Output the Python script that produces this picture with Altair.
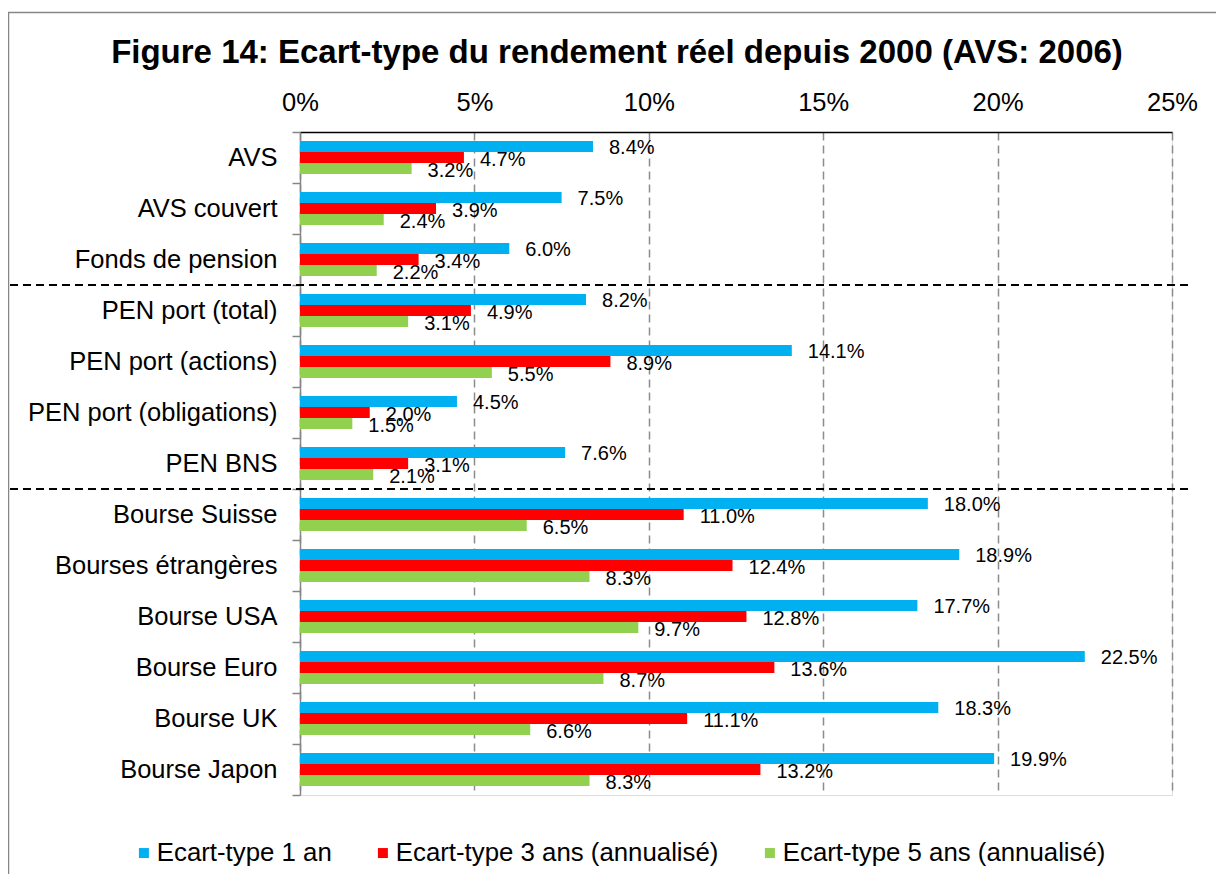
import altair as alt
import pandas as pd

categories = ["AVS", "AVS couvert", "Fonds de pension", "PEN port (total)",
              "PEN port (actions)", "PEN port (obligations)", "PEN BNS",
              "Bourse Suisse", "Bourses étrangères", "Bourse USA",
              "Bourse Euro", "Bourse UK", "Bourse Japon"]
series_names = ["Ecart-type 1 an", "Ecart-type 3 ans (annualisé)",
                "Ecart-type 5 ans (annualisé)"]
ecart_1an = [8.4, 7.5, 6.0, 8.2, 14.1, 4.5, 7.6, 18.0, 18.9, 17.7, 22.5, 18.3, 19.9]
ecart_3ans = [4.7, 3.9, 3.4, 4.9, 8.9, 2.0, 3.1, 11.0, 12.4, 12.8, 13.6, 11.1, 13.2]
ecart_5ans = [3.2, 2.4, 2.2, 3.1, 5.5, 1.5, 2.1, 6.5, 8.3, 9.7, 8.7, 6.6, 8.3]
colors = ["#00B0F0", "#FF0000", "#92D050"]
separators = ["PEN port (total)", "Bourse Suisse"]
x_ticks = [0, 5, 10, 15, 20, 25]
title_text = "Figure 14: Ecart-type du rendement réel depuis 2000 (AVS: 2006)"

rows = []
for name, vals in zip(series_names, [ecart_1an, ecart_3ans, ecart_5ans]):
    for c, v in zip(categories, vals):
        rows.append({"cat": c, "series": name, "value": v})
df = pd.DataFrame(rows)

FONT = "Liberation Sans"
W, H = 872, 663

yscale = alt.Scale(domain=categories, paddingInner=0, paddingOuter=0)
yoff = alt.YOffset("series:N", scale=alt.Scale(domain=series_names, paddingInner=0, paddingOuter=0.818))
xscale = alt.Scale(domain=[0, 25], nice=False, zero=True)

base = alt.Chart(df)

bars = base.mark_bar(size=11).encode(
    x=alt.X("value:Q", scale=xscale,
            axis=alt.Axis(orient="top", values=x_ticks, labelExpr="datum.value + '%'",
                          title=None, ticks=False, labelFontSize=25.5, labelFont=FONT,
                          labelColor="black", labelPadding=17, labelFlush=False,
                          domainColor="black", domainWidth=1.5, grid=True,
                          gridColor="#8c8c8c", gridWidth=1.5, gridDash=[8, 5])),
    y=alt.Y("cat:N", scale=yscale,
            axis=alt.Axis(title=None, labelFontSize=25.5, labelFont=FONT, labelColor="black",
                          tickBand="extent", tickSize=8, tickColor="#868686", tickWidth=1.5,
                          domainColor="#868686", domainWidth=1.5, labelPadding=15,
                          labelLimit=500, grid=False)),
    yOffset=yoff,
    color=alt.Color("series:N", scale=alt.Scale(domain=series_names, range=colors),
                    legend=alt.Legend(title=None, orient="none", legendX=-169, legendY=708,
                                      direction="horizontal", symbolType="square",
                                      symbolSize=100, symbolStrokeWidth=0,
                                      labelFontSize=25.8, labelFont=FONT, labelColor="black",
                                      labelOffset=0, columnPadding=38, labelLimit=600,
                                      padding=0)),
)

labels = base.transform_calculate(
    lbl="format(datum.value, '.1f') + '%'"
).mark_text(align="left", baseline="middle", dx=16, dy=2, fontSize=20, font=FONT,
            color="black").encode(
    x=alt.X("value:Q", scale=xscale),
    y=alt.Y("cat:N", scale=yscale),
    yOffset=yoff,
    text="lbl:N",
)

sep_df = pd.DataFrame({"cat": separators})
seps = alt.Chart(sep_df).mark_rule(color="black", strokeWidth=2, strokeDash=[8, 5]).encode(
    y=alt.Y("cat:N", scale=yscale, bandPosition=0),
    x=alt.value(-290),
    x2=alt.value(893),
)

frame_df = pd.DataFrame({"f": [0]})
frame = alt.Chart(frame_df).mark_rect(filled=False, stroke="#868686", strokeWidth=1.5).encode(
    x=alt.value(-291.5), x2=alt.value(1100), y=alt.value(-119.5), y2=alt.value(900),
)

chart = alt.layer(frame, bars, labels, seps).properties(
    width=W, height=H,
    title=alt.TitleParams(title_text, fontSize=33, font=FONT, fontWeight="bold",
                          color="black", anchor="middle", frame="group", dx=-119,
                          offset=20, dy=78),
    padding={"left": 292, "top": 124, "right": 44, "bottom": 79},
    autosize=alt.AutoSizeParams(type="none"),
).configure_view(stroke=None).configure(background="white")

chart.save("out.html", embed_options={"renderer": "svg", "actions": False})
